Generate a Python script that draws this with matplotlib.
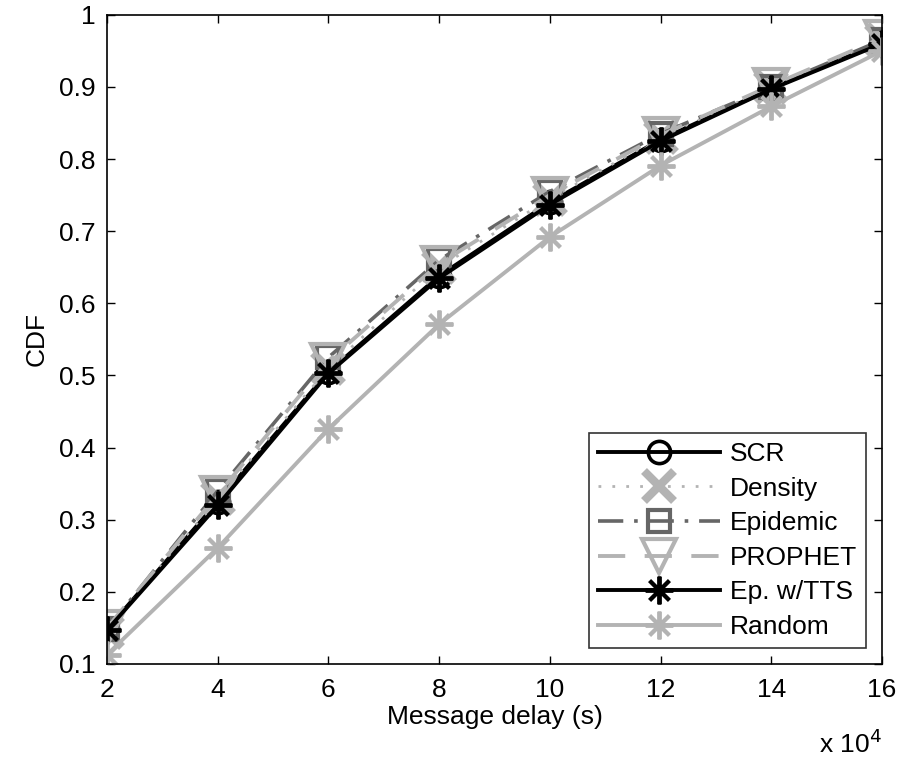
import matplotlib
matplotlib.use("Agg")
import matplotlib.pyplot as plt
import numpy as np

plt.rcParams['font.family'] = ['Liberation Sans', 'DejaVu Sans']

delay = [2, 4, 6, 8, 10, 12, 14, 16]  # x 10^4 s
scr      = [0.148, 0.325, 0.505, 0.638, 0.740, 0.827, 0.898, 0.962]
density  = [0.145, 0.330, 0.510, 0.650, 0.745, 0.830, 0.900, 0.965]
epidemic = [0.148, 0.340, 0.525, 0.660, 0.755, 0.835, 0.900, 0.965]
prophet  = [0.150, 0.335, 0.520, 0.655, 0.750, 0.833, 0.902, 0.968]
ep_tts   = [0.147, 0.320, 0.503, 0.635, 0.737, 0.825, 0.897, 0.960]
rand_    = [0.113, 0.261, 0.426, 0.571, 0.692, 0.791, 0.873, 0.950]

fig = plt.figure(figsize=(9.01, 7.61), dpi=100)
ax = fig.add_axes([0.1188, 0.1275, 0.860, 0.853])

light = '0.7'
dark = '0.4'
fs = 19
ax.plot(delay, scr, color='k', lw=2.8, marker='o', ms=16, mfc='none', mew=2.6, label='SCR')
ax.plot(delay, density, color=light, lw=2, ls=(0, (1, 4)), marker='x', ms=22, mew=6, label='Density')
ax.plot(delay, epidemic, color=dark, lw=2.6, ls=(0, (7, 3, 1, 3)), marker='s', ms=16, mfc='none', mew=3, label='Epidemic')
ax.plot(delay, prophet, color=light, lw=2.8, ls=(0, (7, 5)), marker='v', ms=24, mfc='none', mew=3, label='PROPHET')
ax.plot(delay, ep_tts, color='k', lw=2.8, marker=(8, 2, 0), ms=20, mew=2.8, label='Ep. w/TTS')
ax.plot(delay, rand_, color=light, lw=2.8, marker=(8, 2, 0), ms=20, mew=2.8, label='Random')

ax.set_xlim(2, 16)
ax.set_ylim(0.1, 1)
ax.set_xticks(delay)
ax.set_yticks(np.arange(0.1, 1.01, 0.1))
ax.set_yticklabels(['0.1', '0.2', '0.3', '0.4', '0.5', '0.6', '0.7', '0.8', '0.9', '1'])
ax.tick_params(direction='in', length=6, width=1, labelsize=fs, top=True, right=True)
ax.tick_params(axis='x', pad=10)
ax.tick_params(axis='y', pad=8)
for s in ax.spines.values():
    s.set_linewidth(1.2)
ax.set_xlabel('Message delay (s)', fontsize=fs, labelpad=2)
ax.set_ylabel('CDF', fontsize=fs, labelpad=8)
fig.text(0.979, 0.004, r'x 10$^4$', ha='right', va='bottom', fontsize=fs)

leg = ax.legend(loc='lower right', fontsize=fs, handlelength=4.6, frameon=True, fancybox=False,
                edgecolor='k', borderaxespad=0.6, labelspacing=0.4, handletextpad=0.38,
                borderpad=0.35)
leg.get_frame().set_linewidth(1.2)

fig.savefig('out.png', dpi=100)
